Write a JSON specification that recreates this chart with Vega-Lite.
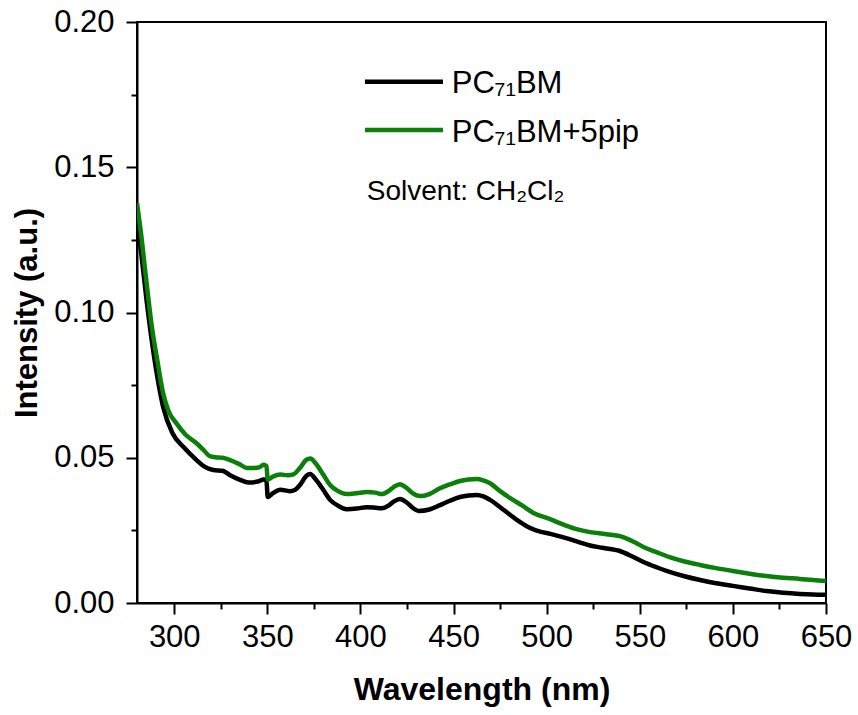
{
  "$schema": "https://vega.github.io/schema/vega-lite/v6.json",
  "width": 689,
  "height": 581,
  "autosize": {"type": "none"},
  "padding": {"left": 137, "top": 22, "right": 32, "bottom": 112},
  "background": "white",
  "config": {
    "view": {"stroke": "black", "strokeWidth": 2},
    "font": "Liberation Sans"
  },
  "datasets": {
    "spectra": [
      {"wl": 280, "I": 0.132, "s": "PC₇₁BM"},
      {"wl": 282, "I": 0.122, "s": "PC₇₁BM"},
      {"wl": 285, "I": 0.105, "s": "PC₇₁BM"},
      {"wl": 288, "I": 0.09, "s": "PC₇₁BM"},
      {"wl": 290.6, "I": 0.079, "s": "PC₇₁BM"},
      {"wl": 294, "I": 0.0676, "s": "PC₇₁BM"},
      {"wl": 299, "I": 0.0585, "s": "PC₇₁BM"},
      {"wl": 305, "I": 0.0537, "s": "PC₇₁BM"},
      {"wl": 312, "I": 0.0492, "s": "PC₇₁BM"},
      {"wl": 316, "I": 0.047, "s": "PC₇₁BM"},
      {"wl": 321, "I": 0.0458, "s": "PC₇₁BM"},
      {"wl": 326, "I": 0.0455, "s": "PC₇₁BM"},
      {"wl": 330, "I": 0.044, "s": "PC₇₁BM"},
      {"wl": 335, "I": 0.0425, "s": "PC₇₁BM"},
      {"wl": 340, "I": 0.0415, "s": "PC₇₁BM"},
      {"wl": 345, "I": 0.0418, "s": "PC₇₁BM"},
      {"wl": 348, "I": 0.0425, "s": "PC₇₁BM"},
      {"wl": 349.5, "I": 0.0422, "s": "PC₇₁BM"},
      {"wl": 350.2, "I": 0.0365, "s": "PC₇₁BM"},
      {"wl": 353, "I": 0.0378, "s": "PC₇₁BM"},
      {"wl": 357, "I": 0.039, "s": "PC₇₁BM"},
      {"wl": 362, "I": 0.0385, "s": "PC₇₁BM"},
      {"wl": 365, "I": 0.039, "s": "PC₇₁BM"},
      {"wl": 367.5, "I": 0.0406, "s": "PC₇₁BM"},
      {"wl": 371, "I": 0.0438, "s": "PC₇₁BM"},
      {"wl": 373, "I": 0.0444, "s": "PC₇₁BM"},
      {"wl": 376, "I": 0.0425, "s": "PC₇₁BM"},
      {"wl": 380, "I": 0.039, "s": "PC₇₁BM"},
      {"wl": 383.7, "I": 0.0355, "s": "PC₇₁BM"},
      {"wl": 388, "I": 0.0335, "s": "PC₇₁BM"},
      {"wl": 392.6, "I": 0.0323, "s": "PC₇₁BM"},
      {"wl": 398, "I": 0.0325, "s": "PC₇₁BM"},
      {"wl": 403.4, "I": 0.033, "s": "PC₇₁BM"},
      {"wl": 408, "I": 0.0328, "s": "PC₇₁BM"},
      {"wl": 411.4, "I": 0.0326, "s": "PC₇₁BM"},
      {"wl": 415, "I": 0.0335, "s": "PC₇₁BM"},
      {"wl": 418, "I": 0.035, "s": "PC₇₁BM"},
      {"wl": 421.2, "I": 0.0358, "s": "PC₇₁BM"},
      {"wl": 425, "I": 0.0345, "s": "PC₇₁BM"},
      {"wl": 428, "I": 0.0328, "s": "PC₇₁BM"},
      {"wl": 431.2, "I": 0.0317, "s": "PC₇₁BM"},
      {"wl": 437, "I": 0.0322, "s": "PC₇₁BM"},
      {"wl": 442.7, "I": 0.0337, "s": "PC₇₁BM"},
      {"wl": 448, "I": 0.0352, "s": "PC₇₁BM"},
      {"wl": 453.5, "I": 0.0365, "s": "PC₇₁BM"},
      {"wl": 458, "I": 0.037, "s": "PC₇₁BM"},
      {"wl": 462.5, "I": 0.0372, "s": "PC₇₁BM"},
      {"wl": 466, "I": 0.0367, "s": "PC₇₁BM"},
      {"wl": 469.6, "I": 0.0355, "s": "PC₇₁BM"},
      {"wl": 477, "I": 0.032, "s": "PC₇₁BM"},
      {"wl": 484, "I": 0.0286, "s": "PC₇₁BM"},
      {"wl": 490, "I": 0.0262, "s": "PC₇₁BM"},
      {"wl": 497, "I": 0.0245, "s": "PC₇₁BM"},
      {"wl": 502, "I": 0.0238, "s": "PC₇₁BM"},
      {"wl": 510, "I": 0.0224, "s": "PC₇₁BM"},
      {"wl": 518, "I": 0.0208, "s": "PC₇₁BM"},
      {"wl": 523.3, "I": 0.0198, "s": "PC₇₁BM"},
      {"wl": 530, "I": 0.019, "s": "PC₇₁BM"},
      {"wl": 539.3, "I": 0.0179, "s": "PC₇₁BM"},
      {"wl": 546, "I": 0.016, "s": "PC₇₁BM"},
      {"wl": 552, "I": 0.0141, "s": "PC₇₁BM"},
      {"wl": 559, "I": 0.0123, "s": "PC₇₁BM"},
      {"wl": 566, "I": 0.0107, "s": "PC₇₁BM"},
      {"wl": 574, "I": 0.0092, "s": "PC₇₁BM"},
      {"wl": 582.4, "I": 0.0079, "s": "PC₇₁BM"},
      {"wl": 591, "I": 0.0068, "s": "PC₇₁BM"},
      {"wl": 600, "I": 0.0059, "s": "PC₇₁BM"},
      {"wl": 609, "I": 0.005, "s": "PC₇₁BM"},
      {"wl": 618, "I": 0.0041, "s": "PC₇₁BM"},
      {"wl": 627, "I": 0.0035, "s": "PC₇₁BM"},
      {"wl": 636, "I": 0.0031, "s": "PC₇₁BM"},
      {"wl": 643, "I": 0.0029, "s": "PC₇₁BM"},
      {"wl": 650, "I": 0.0028, "s": "PC₇₁BM"},
      {"wl": 280, "I": 0.1377, "s": "PC₇₁BM+5pip"},
      {"wl": 282, "I": 0.128, "s": "PC₇₁BM+5pip"},
      {"wl": 285, "I": 0.111, "s": "PC₇₁BM+5pip"},
      {"wl": 288, "I": 0.095, "s": "PC₇₁BM+5pip"},
      {"wl": 290.6, "I": 0.0847, "s": "PC₇₁BM+5pip"},
      {"wl": 294, "I": 0.0723, "s": "PC₇₁BM+5pip"},
      {"wl": 297, "I": 0.066, "s": "PC₇₁BM+5pip"},
      {"wl": 301, "I": 0.062, "s": "PC₇₁BM+5pip"},
      {"wl": 306, "I": 0.058, "s": "PC₇₁BM+5pip"},
      {"wl": 312, "I": 0.055, "s": "PC₇₁BM+5pip"},
      {"wl": 316, "I": 0.0525, "s": "PC₇₁BM+5pip"},
      {"wl": 319, "I": 0.0506, "s": "PC₇₁BM+5pip"},
      {"wl": 322, "I": 0.0502, "s": "PC₇₁BM+5pip"},
      {"wl": 326, "I": 0.05, "s": "PC₇₁BM+5pip"},
      {"wl": 330, "I": 0.0492, "s": "PC₇₁BM+5pip"},
      {"wl": 335, "I": 0.0478, "s": "PC₇₁BM+5pip"},
      {"wl": 339, "I": 0.0465, "s": "PC₇₁BM+5pip"},
      {"wl": 343, "I": 0.0465, "s": "PC₇₁BM+5pip"},
      {"wl": 346, "I": 0.0468, "s": "PC₇₁BM+5pip"},
      {"wl": 348, "I": 0.0476, "s": "PC₇₁BM+5pip"},
      {"wl": 349.5, "I": 0.0472, "s": "PC₇₁BM+5pip"},
      {"wl": 350.2, "I": 0.0425, "s": "PC₇₁BM+5pip"},
      {"wl": 353, "I": 0.0435, "s": "PC₇₁BM+5pip"},
      {"wl": 357, "I": 0.0442, "s": "PC₇₁BM+5pip"},
      {"wl": 361, "I": 0.044, "s": "PC₇₁BM+5pip"},
      {"wl": 364, "I": 0.0443, "s": "PC₇₁BM+5pip"},
      {"wl": 367.5, "I": 0.0465, "s": "PC₇₁BM+5pip"},
      {"wl": 371, "I": 0.0493, "s": "PC₇₁BM+5pip"},
      {"wl": 373, "I": 0.0497, "s": "PC₇₁BM+5pip"},
      {"wl": 376, "I": 0.048, "s": "PC₇₁BM+5pip"},
      {"wl": 380, "I": 0.0442, "s": "PC₇₁BM+5pip"},
      {"wl": 383.7, "I": 0.0406, "s": "PC₇₁BM+5pip"},
      {"wl": 388, "I": 0.0385, "s": "PC₇₁BM+5pip"},
      {"wl": 392.6, "I": 0.0375, "s": "PC₇₁BM+5pip"},
      {"wl": 398, "I": 0.0378, "s": "PC₇₁BM+5pip"},
      {"wl": 403.4, "I": 0.0382, "s": "PC₇₁BM+5pip"},
      {"wl": 408, "I": 0.038, "s": "PC₇₁BM+5pip"},
      {"wl": 411.4, "I": 0.0375, "s": "PC₇₁BM+5pip"},
      {"wl": 415, "I": 0.0385, "s": "PC₇₁BM+5pip"},
      {"wl": 418, "I": 0.04, "s": "PC₇₁BM+5pip"},
      {"wl": 421.2, "I": 0.0409, "s": "PC₇₁BM+5pip"},
      {"wl": 425, "I": 0.0395, "s": "PC₇₁BM+5pip"},
      {"wl": 428, "I": 0.0378, "s": "PC₇₁BM+5pip"},
      {"wl": 432, "I": 0.0368, "s": "PC₇₁BM+5pip"},
      {"wl": 437, "I": 0.0375, "s": "PC₇₁BM+5pip"},
      {"wl": 442.7, "I": 0.0395, "s": "PC₇₁BM+5pip"},
      {"wl": 448, "I": 0.0408, "s": "PC₇₁BM+5pip"},
      {"wl": 453.5, "I": 0.042, "s": "PC₇₁BM+5pip"},
      {"wl": 458, "I": 0.0425, "s": "PC₇₁BM+5pip"},
      {"wl": 462.5, "I": 0.0427, "s": "PC₇₁BM+5pip"},
      {"wl": 466, "I": 0.0422, "s": "PC₇₁BM+5pip"},
      {"wl": 469.6, "I": 0.0412, "s": "PC₇₁BM+5pip"},
      {"wl": 475, "I": 0.0385, "s": "PC₇₁BM+5pip"},
      {"wl": 480.4, "I": 0.0361, "s": "PC₇₁BM+5pip"},
      {"wl": 487, "I": 0.0335, "s": "PC₇₁BM+5pip"},
      {"wl": 492.9, "I": 0.031, "s": "PC₇₁BM+5pip"},
      {"wl": 501.8, "I": 0.0289, "s": "PC₇₁BM+5pip"},
      {"wl": 507, "I": 0.0275, "s": "PC₇₁BM+5pip"},
      {"wl": 515, "I": 0.0256, "s": "PC₇₁BM+5pip"},
      {"wl": 523.3, "I": 0.0244, "s": "PC₇₁BM+5pip"},
      {"wl": 532, "I": 0.0237, "s": "PC₇₁BM+5pip"},
      {"wl": 541, "I": 0.0227, "s": "PC₇₁BM+5pip"},
      {"wl": 547, "I": 0.021, "s": "PC₇₁BM+5pip"},
      {"wl": 552, "I": 0.0193, "s": "PC₇₁BM+5pip"},
      {"wl": 559, "I": 0.0175, "s": "PC₇₁BM+5pip"},
      {"wl": 566, "I": 0.0158, "s": "PC₇₁BM+5pip"},
      {"wl": 574, "I": 0.0143, "s": "PC₇₁BM+5pip"},
      {"wl": 582.4, "I": 0.0131, "s": "PC₇₁BM+5pip"},
      {"wl": 591, "I": 0.012, "s": "PC₇₁BM+5pip"},
      {"wl": 600, "I": 0.011, "s": "PC₇₁BM+5pip"},
      {"wl": 609, "I": 0.0101, "s": "PC₇₁BM+5pip"},
      {"wl": 618, "I": 0.0093, "s": "PC₇₁BM+5pip"},
      {"wl": 627, "I": 0.0087, "s": "PC₇₁BM+5pip"},
      {"wl": 636, "I": 0.0083, "s": "PC₇₁BM+5pip"},
      {"wl": 643, "I": 0.0079, "s": "PC₇₁BM+5pip"},
      {"wl": 650, "I": 0.0076, "s": "PC₇₁BM+5pip"}
    ],
    "legendLines": [
      {"wl": 402.4, "wl2": 444.3, "I": 0.1794, "s": "PC₇₁BM"},
      {"wl": 402.4, "wl2": 444.3, "I": 0.1628, "s": "PC₇₁BM+5pip"}
    ],
    "legendText": [
      {"wl": 449, "I": 0.1755, "t": "PC₇₁BM"},
      {"wl": 449, "I": 0.1588, "t": "PC₇₁BM+5pip"}
    ],
    "note": [
      {"wl": 403.4, "I": 0.1387, "t": "Solvent: CH₂Cl₂"}
    ]
  },
  "encoding": {
    "x": {
      "field": "wl", "type": "quantitative",
      "scale": {"domain": [280, 650], "nice": false, "zero": false},
      "axis": {
        "title": "Wavelength (nm)",
        "values": [300, 325, 350, 375, 400, 425, 450, 475, 500, 525, 550, 575, 600, 625, 650],
        "format": "d",
        "labelExpr": "datum.value % 50 === 0 ? datum.label : ''",
        "tickSize": {"condition": {"test": "datum.value % 50 === 0", "value": 11}, "value": 6},
        "grid": false,
        "domainColor": "black", "domainWidth": 2,
        "tickColor": "black", "tickWidth": 2,
        "labelFont": "Liberation Sans", "labelFontSize": 31, "labelColor": "black",
        "labelPadding": 8, "labelFlush": false, "labelOverlap": false,
        "titleFont": "Liberation Sans", "titleFontSize": 32, "titleFontWeight": "bold",
        "titleColor": "black", "titlePadding": 22
      }
    },
    "y": {
      "field": "I", "type": "quantitative",
      "scale": {"domain": [0, 0.2], "nice": false},
      "axis": {
        "title": "Intensity (a.u.)",
        "values": [0, 0.025, 0.05, 0.075, 0.1, 0.125, 0.15, 0.175, 0.2],
        "format": ".2f",
        "labelExpr": "round(datum.value * 1000) % 50 === 0 ? datum.label : ''",
        "tickSize": {"condition": {"test": "round(datum.value * 1000) % 50 === 0", "value": 11}, "value": 6},
        "grid": false,
        "domainColor": "black", "domainWidth": 2,
        "tickColor": "black", "tickWidth": 2,
        "labelFont": "Liberation Sans", "labelFontSize": 31, "labelColor": "black",
        "labelPadding": 12, "labelFlush": false, "labelOverlap": false,
        "titleFont": "Liberation Sans", "titleFontSize": 31, "titleFontWeight": "bold",
        "titleColor": "black", "titlePadding": 10
      }
    }
  },
  "layer": [
    {
      "data": {"name": "spectra"},
      "mark": {"type": "line", "strokeWidth": 4.5, "clip": true, "interpolate": "monotone"},
      "encoding": {
        "color": {
          "field": "s", "type": "nominal",
          "scale": {"domain": ["PC₇₁BM", "PC₇₁BM+5pip"], "range": ["#000000", "#0a800a"]},
          "legend": null
        }
      }
    },
    {
      "data": {"name": "legendLines"},
      "mark": {"type": "rule", "strokeWidth": 4.5},
      "encoding": {
        "x2": {"field": "wl2"},
        "color": {"field": "s", "type": "nominal", "legend": null}
      }
    },
    {
      "data": {"name": "legendText"},
      "mark": {"type": "text", "align": "left", "baseline": "alphabetic", "fontSize": 31, "font": "Liberation Sans", "color": "black"},
      "encoding": {
        "text": {"field": "t"}
      }
    },
    {
      "data": {"name": "note"},
      "mark": {"type": "text", "align": "left", "baseline": "alphabetic", "fontSize": 28, "font": "Liberation Sans", "color": "black"},
      "encoding": {
        "text": {"field": "t"}
      }
    }
  ]
}
